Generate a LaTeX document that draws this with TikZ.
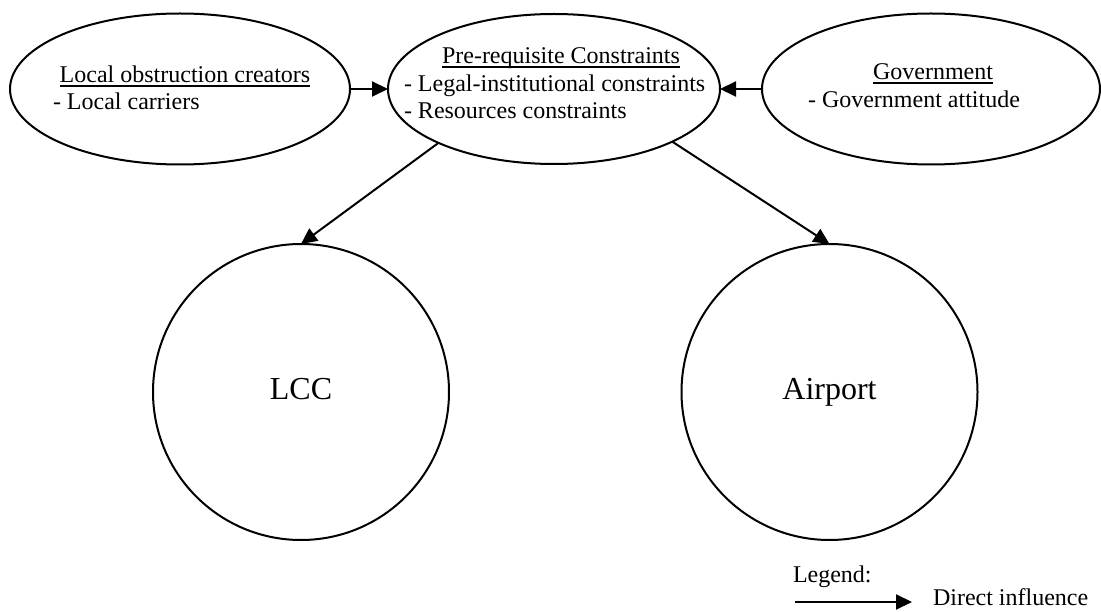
\documentclass[tikz,border=0pt]{standalone}
\usepackage{fontspec}
\setmainfont{Liberation Serif}
\usetikzlibrary{arrows.meta,shapes.geometric}
\begin{document}
\begin{tikzpicture}[x=1pt,y=-1pt,
  every node/.style={inner sep=0pt,outer sep=0pt},
  shape line/.style={draw=black,line width=2pt},
  oval/.style={shape line,ellipse,fill=white},
  disc/.style={shape line,circle,fill=white,minimum size=296pt,
    font=\fontsize{32}{36}\selectfont,text height=22pt,text depth=7pt},
  txt/.style={font=\fontsize{24}{27.6}\selectfont},
  head/.style={txt,anchor=base},
  item/.style={txt,anchor=base west},
  arr/.style={line width=2pt,-{Triangle[length=16pt,width=15pt]}},
  uline/.style={line width=1.5pt}]
\useasboundingbox (0,0) rectangle (1101,612);

% upper row of ellipses
\node[oval,minimum width=340pt,minimum height=151pt] (loc) at (180,89) {};
\node[oval,minimum width=332pt,minimum height=150pt] (pre) at (554,89) {};
\node[oval,minimum width=338pt,minimum height=151pt] (gov) at (931,89) {};

% lower circles
\node[disc] (lcc) at (301,392) {LCC};
\node[disc] (apt) at (829.5,392) {Airport};

% text inside the ellipses
\node[head] (locT) at (185,83) {Local obstruction creators};
\node[item] (locA) at (53,110) {- Local carriers};
\node[head] (preT) at (561,64) {Pre-requisite Constraints};
\node[item] (preA) at (404,91.5) {- Legal-institutional constraints};
\node[item] (preB) at (404,119) {- Resources constraints};
\node[head] (govT) at (933,80) {Government};
\node[item] (govA) at (808,108) {- Government attitude};

% underlined headings
\foreach \h in {locT,preT,govT}
  \draw[uline] ([yshift=-2.8pt]\h.base west) -- ([yshift=-2.8pt]\h.base east);

% influences
\draw[arr] (loc.east) -- (pre.west);
\draw[arr] (gov.west) -- (pre.east);
\draw[arr] (pre.205) -- (lcc.north);
\draw[arr] (pre.336) -- (apt.north);

% legend
\node[item] (legT) at (793,582) {Legend:};
\coordinate (legA) at (795,602);
\coordinate (legB) at (912,602);
\draw[arr] (legA) -- (legB);
\node[item] (legD) at (933,605) {Direct influence};
\end{tikzpicture}
\end{document}
